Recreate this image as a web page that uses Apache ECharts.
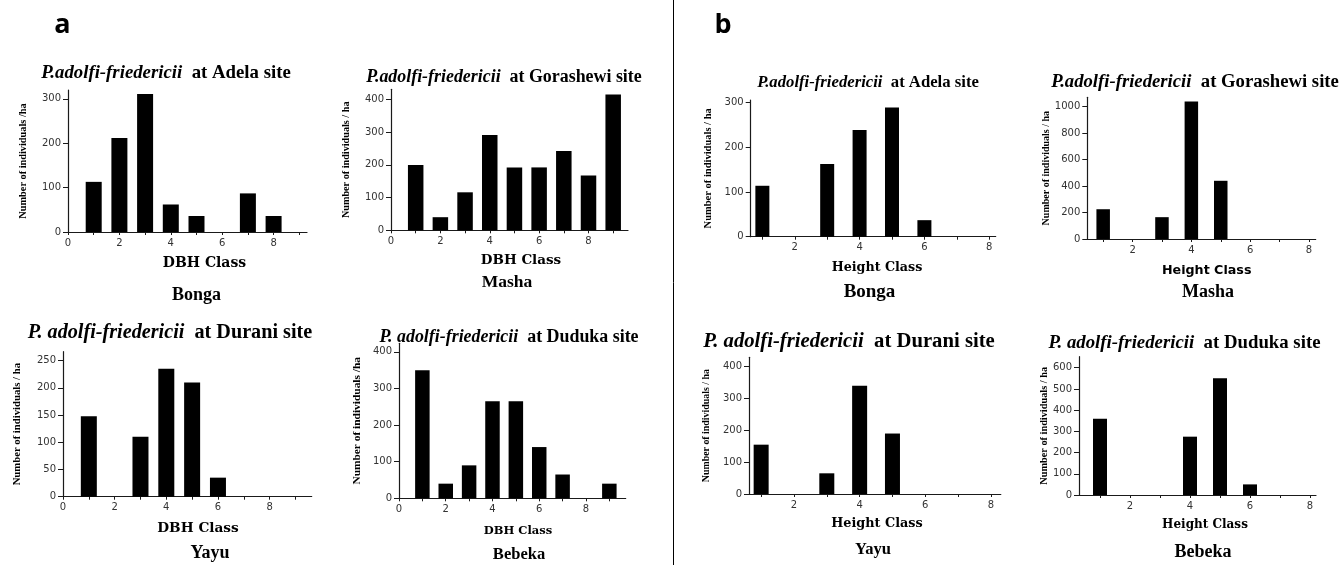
<!DOCTYPE html>
<html>
<head>
<meta charset="utf-8">
<script src="https://cdn.jsdelivr.net/npm/echarts@6/dist/echarts.min.js"></script>
<style>html,body{margin:0;padding:0;background:#fff}#c{width:1344px;height:565px}</style>
</head>
<body>
<div id="c"></div>
<script>
// ---- data ----
const dbhClasses = [1, 2, 3, 4, 5, 6, 7, 8, 9];
const heightClasses = [1, 2, 3, 4, 5, 6, 7, 8];
const dbhAdela = [113, 212, 311, 62, 36, 0, 87, 36, 0];
const dbhGorashewi = [199, 40, 116, 291, 192, 192, 242, 167, 415];
const dbhDurani = [148, 0, 110, 235, 210, 35, 0, 0, 0];
const dbhDuduka = [350, 40, 90, 265, 265, 140, 65, 0, 40];
const heightAdela = [114, 0, 163, 239, 289, 37, 0, 0];
const heightGorashewi = [225, 0, 165, 1040, 440, 0, 0, 0];
const heightDurani = [155, 0, 65, 340, 190, 0, 0, 0];
const heightDuduka = [360, 0, 0, 275, 550, 50, 0, 0];
const dbhTickLabels = [0, 2, 4, 6, 8];
const dbhTicks = [0, 1, 2, 3, 4, 5, 6, 7, 8, 9];
const heightTickLabels = [2, 4, 6, 8];
const heightTicks = [1, 2, 3, 4, 5, 6, 7, 8];
const yTicks100_300 = [0, 100, 200, 300];
const yTicks100_400 = [0, 100, 200, 300, 400];
const yTicks50_250 = [0, 50, 100, 150, 200, 250];
const yTicks200_1000 = [0, 200, 400, 600, 800, 1000];
const yTicks100_600 = [0, 100, 200, 300, 400, 500, 600];
const speciesA = 'P.adolfi-friedericii';
const speciesB = 'P. adolfi-friedericii';
const regions = ['Bonga', 'Masha', 'Yayu', 'Bebeka'];
const sites = ['Adela', 'Gorashewi', 'Durani', 'Duduka'];
const yNameSlash = 'Number of individuals /ha';
const yNameSpaced = 'Number of individuals / ha';
const dbhName = 'DBH Class';
const heightName = 'Height Class';

// ---- layout (style only) ----
const panels = [
  {cls: dbhClasses, vals: dbhAdela, ticks: dbhTicks, labels: dbhTickLabels, yt: yTicks100_300,
   grid: [68, 90, 239, 142], xmin: 0, xmax: 9.3, ymax: 320, bw: 16, yname: yNameSlash, ynSize: 10.3, gap: 40},
  {cls: dbhClasses, vals: dbhGorashewi, ticks: dbhTicks, labels: dbhTickLabels, yt: yTicks100_400,
   grid: [391, 89.3, 237, 141], xmin: 0, xmax: 9.6, ymax: 430.5, bw: 15.5, yname: yNameSpaced, ynSize: 10.2, gap: 39.7},
  {cls: dbhClasses, vals: dbhDurani, ticks: dbhTicks, labels: dbhTickLabels, yt: yTicks50_250,
   grid: [63, 351.7, 248.7, 145], xmin: 0, xmax: 9.63, ymax: 266.5, bw: 16, yname: yNameSpaced, ynSize: 10.7, gap: 40.3},
  {cls: dbhClasses, vals: dbhDuduka, ticks: dbhTicks, labels: dbhTickLabels, yt: yTicks100_400,
   grid: [399, 343.3, 226.7, 155], xmin: 0, xmax: 9.7, ymax: 423.5, bw: 14.5, yname: yNameSlash, ynSize: 11.4, gap: 36.3},
  {cls: heightClasses, vals: heightAdela, ticks: heightTicks, labels: heightTickLabels, yt: yTicks100_300,
   grid: [750.7, 100, 245, 136.7], xmin: 0.64, xmax: 8.2, ymax: 306, bw: 14, yname: yNameSpaced, ynSize: 10.5, gap: 37},
  {cls: heightClasses, vals: heightGorashewi, ticks: heightTicks, labels: heightTickLabels, yt: yTicks200_1000,
   grid: [1087.3, 97.3, 228.4, 141.7], xmin: 0.46, xmax: 8.23, ymax: 1071, bw: 13.5, yname: yNameSpaced, ynSize: 10, gap: 34.6},
  {cls: heightClasses, vals: heightDurani, ticks: heightTicks, labels: heightTickLabels, yt: yTicks100_400,
   grid: [749, 357.3, 251.8, 136.7], xmin: 0.63, xmax: 8.3, ymax: 429.5, bw: 15, yname: yNameSpaced, ynSize: 9.9, gap: 37.7},
  {cls: heightClasses, vals: heightDuduka, ticks: heightTicks, labels: heightTickLabels, yt: yTicks100_600,
   grid: [1079, 356.7, 237, 138.3], xmin: 0.3, xmax: 8.2, ymax: 652, bw: 14, yname: yNameSpaced, ynSize: 10.3, gap: 26.3}
];

const axisColor = '#1a1a1a';
const tickFont = {fontFamily: 'DejaVu Sans', fontSize: 10, color: '#333', formatter: v => String(v)};

const grids = [], xAxes = [], yAxes = [], series = [];
panels.forEach((p, i) => {
  grids.push({left: p.grid[0], top: p.grid[1], width: p.grid[2], height: p.grid[3],
    containLabel: false, outerBoundsMode: 'none'});
  xAxes.push({type: 'value', gridIndex: i, min: p.xmin, max: p.xmax,
    axisLine: {show: true, onZero: false, lineStyle: {color: axisColor, width: 1.2}},
    axisTick: {show: true, customValues: p.ticks, length: 3, lineStyle: {color: axisColor}},
    axisLabel: Object.assign({show: true, customValues: p.labels, margin: 6}, tickFont),
    splitLine: {show: false}});
  yAxes.push({type: 'value', gridIndex: i, min: 0, max: p.ymax,
    name: p.yname, nameLocation: 'middle', nameGap: p.gap, nameRotate: 90,
    nameTextStyle: {fontFamily: 'Liberation Serif', fontWeight: 'bold', fontSize: p.ynSize, color: '#000'},
    axisLine: {show: true, lineStyle: {color: axisColor, width: 1.2}},
    axisTick: {show: true, customValues: p.yt, length: 5, lineStyle: {color: axisColor}},
    axisLabel: Object.assign({show: true, customValues: p.yt, margin: 7}, tickFont),
    splitLine: {show: false}});
  series.push({type: 'bar', xAxisIndex: i, yAxisIndex: i, barWidth: p.bw,
    itemStyle: {color: '#000'}, silent: true, animation: false,
    data: p.cls.map((c, k) => [c, p.vals[k]])});
});

function t(text, x, y, style) {
  return {text: text, left: x, top: y, textAlign: 'center', textVerticalAlign: 'middle', padding: 0,
    textStyle: Object.assign({color: '#000'}, style)};
}
function panelTitle(sp, site, x, y, size) {
  const base = {fontFamily: 'Liberation Serif', fontWeight: 'bold', fontSize: size, color: '#000'};
  return {text: '{i|' + sp + '}{n|  at ' + site + ' site}', left: x, top: y, textAlign: 'center',
    textVerticalAlign: 'middle', padding: 0,
    textStyle: {rich: {i: Object.assign({fontStyle: 'italic'}, base), n: base}}};
}
const serifName = s => ({fontFamily: 'DejaVu Serif', fontWeight: 'bold', fontSize: s});
const siteStyle = s => ({fontFamily: 'Liberation Serif', fontWeight: 'bold', fontSize: s});

const titles = [
  t('a', 62.5, 25, {fontFamily: 'Open Sans', fontWeight: 'bold', fontSize: 27}),
  t('b', 723, 25, {fontFamily: 'Open Sans', fontWeight: 'bold', fontSize: 27}),
  panelTitle(speciesA, sites[0], 166, 73, 18.8),
  panelTitle(speciesA, sites[1], 504, 77, 17.9),
  panelTitle(speciesB, sites[2], 170, 333, 20.2),
  panelTitle(speciesB, sites[3], 509, 337, 17.9),
  panelTitle(speciesA, sites[0], 868, 83, 16.7),
  panelTitle(speciesA, sites[1], 1195, 82, 18.7),
  panelTitle(speciesB, sites[2], 849, 342, 20.7),
  panelTitle(speciesB, sites[3], 1184.5, 343, 18.8),
  t(dbhName, 204.5, 263.5, serifName(14)),
  t(dbhName, 521, 260, serifName(13.5)),
  t(dbhName, 198, 528, serifName(13.7)),
  t(dbhName, 518, 531.5, serifName(11.5)),
  t(heightName, 877, 267.5, serifName(12.7)),
  t(heightName, 1206.7, 270.5, {fontFamily: 'DejaVu Sans', fontWeight: 'bold', fontSize: 12.7}),
  t(heightName, 877, 524, serifName(12.8)),
  t(heightName, 1205, 525, serifName(12)),
  t(regions[0], 196.5, 295, siteStyle(18)),
  t(regions[1], 507, 282, siteStyle(17.5)),
  t(regions[2], 210, 553, siteStyle(18)),
  t(regions[3], 519, 555, siteStyle(16.5)),
  t(regions[0], 869.5, 292.5, siteStyle(19)),
  t(regions[1], 1208, 292.5, siteStyle(18)),
  t(regions[2], 873, 550, siteStyle(16.5)),
  t(regions[3], 1203, 552, siteStyle(18))
];

const chart = echarts.init(document.getElementById('c'), null, {renderer: 'canvas'});
chart.setOption({
  animation: false,
  backgroundColor: '#fff',
  title: titles,
  grid: grids,
  xAxis: xAxes,
  yAxis: yAxes,
  series: series,
  graphic: [{type: 'line', shape: {x1: 673.5, y1: 0, x2: 673.5, y2: 565}, style: {stroke: '#000', lineWidth: 1}}]
});
</script>
</body>
</html>
